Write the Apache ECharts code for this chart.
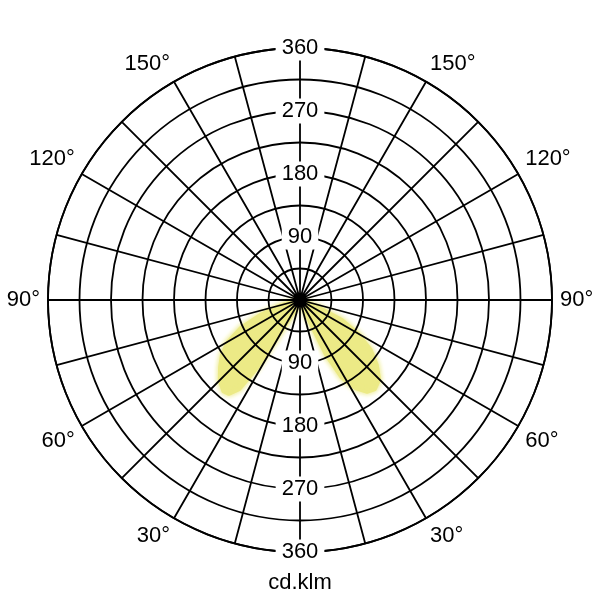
<!DOCTYPE html>
<html><head><meta charset="utf-8">
<script src="https://cdn.jsdelivr.net/npm/echarts@6/dist/echarts.min.js"></script>
<style>html,body{margin:0;padding:0;background:#fff}#c{width:600px;height:600px}</style>
</head><body><div id="c"></div>
<script>
// Photometric polar diagram (angle measured from nadir, 0° = down)
const unitLabel = 'cd.klm';
const radiusMax = 360;
const ringStep = 45;
const radiusLabelStep = 90;
const spokeStep = 15;
const angleLabelStep = 30;

// C0-C180 plane, left half (gamma angle in degrees, intensity in cd/klm)
const leftAngles = [90, 85, 80, 75, 70, 65, 60, 55, 50, 45, 40, 37, 34, 32, 30, 25, 20, 10, 0];
const leftCd     = [ 3,  6, 14, 31, 60, 94,120,137,150,163,171,169,154,114, 43, 20, 11,  6, 4];
// C90-C270 plane, right half
const rightAngles = [0, 10, 15, 20, 23, 25, 28, 32, 36, 40, 45, 50, 55, 60, 65, 70, 75, 80, 90];
const rightCd     = [4,  6,  9, 17, 36, 86,126,149,163,167,161,144,124, 97, 67, 29, 11,  6,  3];

const lobeColor = '#ecea86';
const font = 'Liberation Sans, Arial, sans-serif';
const gridWidth = 1.8;

const leftData = leftAngles.map((a, i) => [leftCd[i], a]);
const rightData = rightAngles.map((a, i) => [rightCd[i], 360 - a]);

const center = ['50%', '50%'];
const radius = 252;

function hiddenAngle(start, idx) {
  return {
    polarIndex: idx, type: 'value', min: 0, max: 360, startAngle: start, clockwise: true,
    axisLine: {show: false}, axisTick: {show: false}, axisLabel: {show: false}, splitLine: {show: false}
  };
}
function labelRadius(idx) {
  return {
    polarIndex: idx, type: 'value', min: 0, max: radiusMax, interval: radiusLabelStep, z: 6,
    axisLine: {show: false}, axisTick: {show: false}, splitLine: {show: false},
    axisLabel: {
      show: true, showMinLabel: false, margin: 0, align: 'center', verticalAlign: 'middle',
      fontSize: 22, fontFamily: font, color: '#000', backgroundColor: '#fff', padding: [2, 6, 1, 6]
    }
  };
}

const option = {
  animation: false,
  backgroundColor: '#fff',
  title: {
    text: unitLabel, left: 'center', top: 567,
    textStyle: {fontSize: 22, fontWeight: 'normal', fontFamily: font, color: '#000'}
  },
  polar: [
    {center: center, radius: radius},
    {center: center, radius: radius},
    {center: center, radius: radius}
  ],
  angleAxis: [
    {
      polarIndex: 0, type: 'value', min: 0, max: 360, interval: spokeStep,
      startAngle: 270, clockwise: true, z: 4,
      axisLine: {show: true, lineStyle: {color: '#000', width: gridWidth}},
      axisTick: {show: false},
      splitLine: {show: true, lineStyle: {color: '#000', width: gridWidth}},
      axisLabel: {
        show: true, margin: 8, fontSize: 22, fontFamily: font, color: '#000',
        formatter: function (v) {
          if (v % angleLabelStep !== 0 || v === 0 || v === 180 || v === 360) return '';
          return (v <= 180 ? v : 360 - v) + '°';
        }
      }
    },
    hiddenAngle(90, 1),
    hiddenAngle(270, 2)
  ],
  radiusAxis: [
    {
      polarIndex: 0, type: 'value', min: 0, max: radiusMax, interval: ringStep, z: 4,
      axisLine: {show: false}, axisTick: {show: false}, axisLabel: {show: false},
      splitLine: {show: true, lineStyle: {color: '#000', width: gridWidth}}
    },
    labelRadius(1),
    labelRadius(2)
  ],
  series: [
    {
      type: 'line', coordinateSystem: 'polar', polarIndex: 0, z: 2,
      data: leftData, showSymbol: false, silent: true,
      lineStyle: {color: lobeColor, width: 3, shadowBlur: 5, shadowColor: lobeColor},
      areaStyle: {color: lobeColor, opacity: 1, shadowBlur: 6, shadowColor: lobeColor}
    },
    {
      type: 'line', coordinateSystem: 'polar', polarIndex: 0, z: 2,
      data: rightData, showSymbol: false, silent: true,
      lineStyle: {color: lobeColor, width: 3, shadowBlur: 5, shadowColor: lobeColor},
      areaStyle: {color: lobeColor, opacity: 1, shadowBlur: 6, shadowColor: lobeColor}
    }
  ]
};

const chart = echarts.init(document.getElementById('c'), null, {renderer: 'canvas'});
chart.setOption(option);
</script>
</body></html>
